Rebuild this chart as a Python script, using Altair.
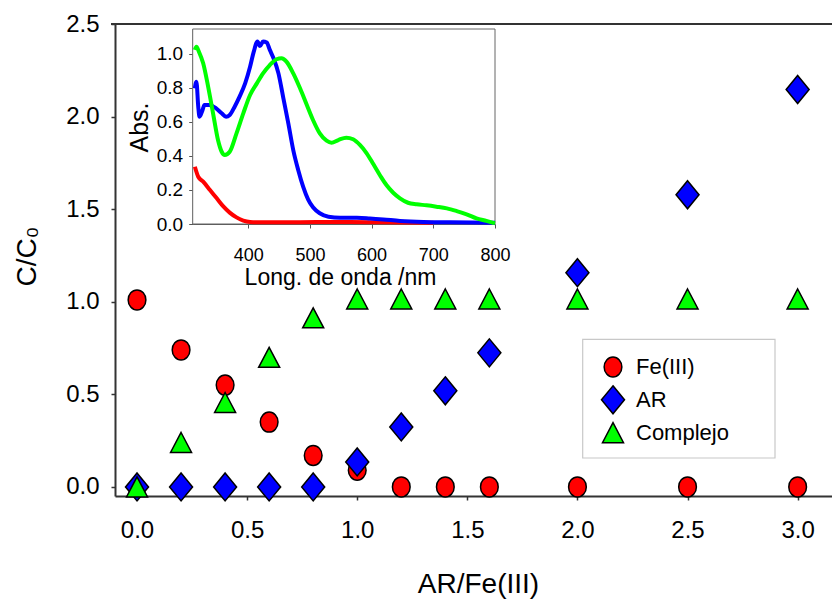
import altair as alt
import pandas as pd

# ---------------- main data ----------------
ratio = [0.0, 0.2, 0.4, 0.6, 0.8, 1.0, 1.2, 1.4, 1.6, 2.0, 2.5, 3.0]
fe = [1.01, 0.74, 0.55, 0.35, 0.17, 0.09, 0.0, 0.0, 0.0, 0.0, 0.0, 0.0]
ar = [0.0, 0.0, 0.0, 0.0, 0.0, 0.135, 0.324, 0.519, 0.724, 1.157, 1.578, 2.146]
complejo = [0.0, 0.24, 0.456, 0.70, 0.913, 1.015, 1.015, 1.015, 1.015, 1.015, 1.015, 1.015]
series = ["Fe(III)", "AR", "Complejo"]
legend_labels = ["\u00a0\u00a0Fe(III)", "\u00a0\u00a0AR", "Complejo"]
series_colors = ["#ff0000", "#0000ff", "#00ff00"]
series_shapes = [
    "M-0.885,0A0.885,1,0,1,0,0.885,0A0.885,1,0,1,0,-0.885,0Z",
    "M0,-1.4L1.15,0L0,1.4L-1.15,0Z",
    "M0,-1L1.05,1L-1.05,1Z",
]
x_ticks = [0.0, 0.5, 1.0, 1.5, 2.0, 2.5, 3.0]
y_ticks = [0.0, 0.5, 1.0, 1.5, 2.0, 2.5]

# ---------------- inset spectra ----------------
wl_fe = [313.5, 319, 327, 338, 349, 360, 370, 381, 392, 403, 424, 457, 511, 565, 619, 700]
abs_fe = [0.337, 0.278, 0.249, 0.200, 0.151, 0.102, 0.067, 0.039, 0.020, 0.012, 0.010, 0.010, 0.012, 0.012, 0.010, 0.008]

wl_ar = [313.5, 316, 319, 321, 326, 329, 337, 348, 357, 364, 370, 378, 386, 395, 403, 409, 415,
         419, 424, 430, 435, 441, 449, 457, 465, 473, 481, 489, 497, 505, 516, 530, 549, 576,
         597, 619, 646, 684, 727, 800]
abs_ar = [0.798, 0.837, 0.690, 0.631, 0.671, 0.700, 0.700, 0.680, 0.651, 0.631, 0.641, 0.690,
          0.749, 0.827, 0.925, 1.014, 1.073, 1.047, 1.073, 1.067, 1.024, 0.975, 0.886, 0.739,
          0.592, 0.435, 0.318, 0.220, 0.145, 0.098, 0.063, 0.043, 0.037, 0.037, 0.033, 0.027,
          0.018, 0.012, 0.010, 0.008]

wl_cx = [313.5, 316, 320, 327, 335, 343, 351, 357, 362, 370, 381, 392, 403, 414, 424, 435, 446,
         454, 462, 473, 484, 495, 505, 516, 527, 535, 546, 559, 570, 581, 592, 603, 614, 624,
         635, 646, 659, 673, 689, 705, 722, 738, 754, 770, 786, 800]
abs_cx = [1.024, 1.043, 1.014, 0.945, 0.808, 0.651, 0.494, 0.425, 0.406, 0.425, 0.533, 0.651,
          0.759, 0.827, 0.886, 0.935, 0.969, 0.975, 0.955, 0.886, 0.798, 0.700, 0.612, 0.533,
          0.490, 0.478, 0.494, 0.508, 0.498, 0.465, 0.416, 0.351, 0.284, 0.229, 0.184, 0.151,
          0.125, 0.116, 0.110, 0.102, 0.092, 0.076, 0.057, 0.033, 0.018, 0.004]

wl_ticks = [400, 500, 600, 700, 800]
abs_ticks = [0.0, 0.2, 0.4, 0.6, 0.8, 1.0]
WL_MIN, WL_MAX = 310, 800
ABS_MIN, ABS_MAX = 0.0, 1.147

FONT = "Liberation Sans, Arial, sans-serif"
AX = "#333333"

# ---------------- tables ----------------
rows = []
for k, (name, vals) in enumerate(zip(series, [fe, ar, complejo])):
    for r, v in zip(ratio, vals):
        rows.append({"ratio": r, "c": v, "serie": name, "idx": k})
pts = pd.DataFrame(rows)

srows = []
for name, wls, vals in zip(series, [wl_fe, wl_ar, wl_cx], [abs_fe, abs_ar, abs_cx]):
    for i, (w, a) in enumerate(zip(wls, vals)):
        srows.append({"wl": w, "abs": a, "serie": name, "i": i})
spec = pd.DataFrame(srows)

leg = pd.DataFrame({"serie": series, "label": legend_labels, "k": list(range(len(series)))})

fill_scale = alt.Scale(domain=series, range=series_colors)
shape_scale = alt.Scale(domain=series, range=series_shapes)

# ---------------- main plot ----------------
x_main = alt.X(
    "ratio:Q",
    scale=alt.Scale(domain=[-0.1, 3.156], nice=False, zero=False),
    axis=alt.Axis(orient="bottom", values=x_ticks, format=".1f", title="AR/Fe(III)", grid=False,
                  domainColor=AX, domainWidth=2, tickColor=AX, tickWidth=1.5, tickSize=4,
                  labelFont=FONT, labelFontSize=24, labelColor="black", labelPadding=18,
                  labelFlush=False, labelOverlap=False,
                  titleFont=FONT, titleFontSize=28, titleFontWeight="normal", titleColor="black",
                  titleX=363, titleY=88, titleBaseline="middle", titleAlign="center"),
)
y_main = alt.Y(
    "c:Q",
    scale=alt.Scale(domain=[-0.049, 2.5], nice=False, zero=False),
    axis=alt.Axis(orient="left", values=y_ticks, format=".1f", title="C/C\u2080", grid=False,
                  domainColor=AX, domainWidth=2, tickColor=AX, tickWidth=1.5, tickSize=4,
                  labelFont=FONT, labelFontSize=24, labelColor="black", labelPadding=12,
                  labelFlush=False, labelOverlap=False,
                  titleFont=FONT, titleFontSize=28, titleFontWeight="normal", titleColor="black",
                  titleX=-88, titleY=232, titleAngle=-90, titleBaseline="middle",
                  titleAlign="center"),
)

points = alt.Chart(pts).mark_point(
    filled=True, size=400, stroke="black", strokeWidth=1.5, opacity=1
).encode(
    x=x_main,
    y=y_main,
    fill=alt.Fill("serie:N", scale=fill_scale, legend=None),
    shape=alt.Shape("serie:N", scale=shape_scale, legend=None),
    order=alt.Order("idx:Q"),
)

# top frame line of the plot area
top_rule = alt.Chart(leg).mark_rule(color=AX, strokeWidth=2).encode(
    x=alt.value(-4), x2=alt.value(717), y=alt.value(0)
).transform_filter("datum.k == 0")

main_layer = alt.layer(points, top_rule)

# ---------------- inset ----------------
x_in_scale = alt.Scale(domain=[WL_MIN, WL_MAX], range=[77.7, 380], nice=False, zero=False)
y_in_scale = alt.Scale(domain=[ABS_MIN, ABS_MAX], range=[200, 5], nice=False, zero=False)

x_in_axis = alt.Axis(orient="bottom", offset=-272, values=wl_ticks, title="Long. de onda /nm",
                     grid=False, domainColor="#555555", domainWidth=1, tickColor="#555555",
                     tickSize=4, labelFont=FONT, labelFontSize=18, labelColor="black",
                     labelPadding=18, labelFlush=False, labelOverlap=False,
                     titleFont=FONT, titleFontSize=23, titleFontWeight="normal",
                     titleColor="black", titleX=225, titleY=53, titleBaseline="middle",
                     titleAlign="center")
y_in_axis = alt.Axis(orient="left", offset=-77.7, values=abs_ticks, format=".1f", title="Abs.",
                     grid=False, domainColor="#555555", domainWidth=1, tickColor="#555555",
                     tickSize=4, labelFont=FONT, labelFontSize=19, labelColor="black",
                     labelPadding=6, labelFlush=False, labelOverlap=False,
                     titleFont=FONT, titleFontSize=25, titleFontWeight="normal",
                     titleColor="black", titleX=-53.7, titleY=103, titleAngle=-90,
                     titleBaseline="middle", titleAlign="center")

frame = alt.Chart(spec).mark_rect(fill="white", stroke="#666666", strokeWidth=1).encode(
    x=alt.datum(WL_MIN), x2=alt.datum(WL_MAX), y=alt.datum(ABS_MIN), y2=alt.datum(ABS_MAX)
).transform_filter("datum.i == 0 && datum.serie == 'AR'")

lines = alt.Chart(spec).mark_line(strokeWidth=4, interpolate="monotone").encode(
    x=alt.X("wl:Q", scale=x_in_scale, axis=x_in_axis),
    y=alt.Y("abs:Q", scale=y_in_scale, axis=y_in_axis),
    stroke=alt.Stroke("serie:N", scale=fill_scale, legend=None),
    detail="serie:N",
    order="i:Q",
)

inset_layer = alt.layer(frame, lines)

# ---------------- legend (rows placed by a point scale) ----------------
leg_y = alt.Y("serie:N", scale=alt.Scale(domain=series, range=[343, 408.7], padding=0), axis=None)

leg_box = alt.Chart(leg).mark_rect(fill="white", stroke="#c8c8c8", strokeWidth=1.2).encode(
    x=alt.value(467.7), x2=alt.value(660), y=alt.value(315.3), y2=alt.value(434)
).transform_filter("datum.k == 0")

leg_sym = alt.Chart(leg).mark_point(
    filled=True, size=400, stroke="black", strokeWidth=1.5, opacity=1
).encode(
    x=alt.value(498),
    y=leg_y,
    fill=alt.Fill("serie:N", scale=fill_scale, legend=None),
    shape=alt.Shape("serie:N", scale=shape_scale, legend=None),
)

leg_txt = alt.Chart(leg).mark_text(
    align="left", baseline="middle", font=FONT, fontSize=22, color="black"
).encode(
    x=alt.value(521),
    y=leg_y,
    text="label:N",
)

legend_layer = alt.layer(leg_box, leg_sym, leg_txt)

chart = alt.layer(inset_layer, main_layer, legend_layer).resolve_scale(
    x="independent", y="independent"
).properties(
    width=717, height=472,
    padding={"left": 115, "top": 24, "right": 0, "bottom": 105},
    autosize=alt.AutoSizeParams(type="none"),
).configure_view(stroke=None)

chart.save("out.html", embed_options={"renderer": "svg", "actions": False})
